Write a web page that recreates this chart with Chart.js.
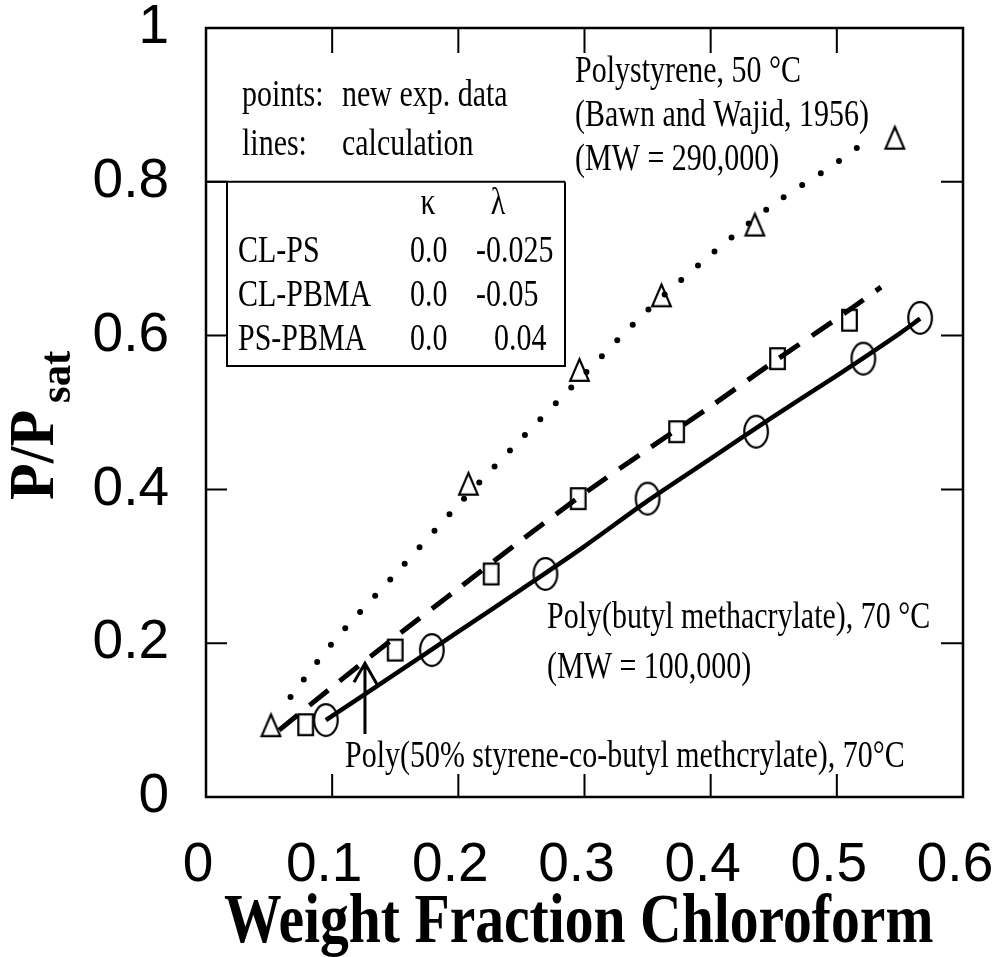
<!DOCTYPE html>
<html>
<head>
<meta charset="utf-8">
<script src="https://cdn.jsdelivr.net/npm/chart.js@4/dist/chart.umd.min.js"></script>
<style>
html,body{margin:0;padding:0;background:#fff;}
#wrap{width:992px;height:957px;position:relative;}
</style>
</head>
<body>
<div id="wrap"><canvas id="c"></canvas></div>
<script>
// ---- tick labels ----
const xTicks = [0, 0.1, 0.2, 0.3, 0.4, 0.5, 0.6];
const xTickLabels = ['0', '0.1', '0.2', '0.3', '0.4', '0.5', '0.6'];
const yTicks = [0, 0.2, 0.4, 0.6, 0.8, 1];
const yTickLabels = ['0', '0.2', '0.4', '0.6', '0.8', '1'];

// ---- experimental points ----
// Polystyrene, 50 °C (triangles)
const psExpX = [0.0515, 0.208, 0.296, 0.361, 0.435, 0.546];
const psExpY = [0.094, 0.408, 0.556, 0.653, 0.745, 0.858];
// Poly(50% styrene-co-butyl methacrylate), 70 °C (squares)
const coExpX = [0.079, 0.150, 0.226, 0.295, 0.373, 0.453, 0.510];
const coExpY = [0.094, 0.191, 0.290, 0.388, 0.475, 0.570, 0.620];
// Poly(butyl methacrylate), 70 °C (circles)
const pbmaExpX = [0.095, 0.179, 0.269, 0.350, 0.436, 0.521, 0.566];
const pbmaExpY = [0.100, 0.191, 0.290, 0.388, 0.475, 0.570, 0.623];

// ---- calculated curves ----
const psCalcX = [0.067, 0.10, 0.15, 0.20, 0.25, 0.30, 0.35, 0.40, 0.45, 0.50, 0.527];
const psCalcY = [0.130, 0.200, 0.290, 0.380, 0.466, 0.550, 0.633, 0.705, 0.771, 0.825, 0.858];
const coCalcX = [0.058, 0.10, 0.15, 0.20, 0.25, 0.30, 0.35, 0.40, 0.45, 0.50, 0.535];
const coCalcY = [0.087, 0.143, 0.208, 0.271, 0.334, 0.395, 0.452, 0.508, 0.566, 0.622, 0.663];
const pbmaCalcX = [0.095, 0.15, 0.20, 0.25, 0.30, 0.35, 0.40, 0.45, 0.50, 0.55, 0.566];
const pbmaCalcY = [0.100, 0.160, 0.215, 0.270, 0.326, 0.385, 0.440, 0.495, 0.548, 0.603, 0.622];

// ---- parameter table ----
const tablePairs = ['CL-PS', 'CL-PBMA', 'PS-PBMA'];
const tableKappa = ['0.0', '0.0', '0.0'];
const tableLambda = ['-0.025', '-0.05', '0.04'];

// arrow pointing at copolymer curve
const arrowX = [0.126];
const arrowY = [0.082, 0.174];

function pts(xs, ys) { return xs.map((x, i) => ({x: x, y: ys[i]})); }

function marker(type, w, h, lw) {
  const c = document.createElement('canvas');
  c.width = w; c.height = h;
  const g = c.getContext('2d');
  g.strokeStyle = '#000'; g.lineWidth = lw; g.lineJoin = 'miter';
  g.beginPath();
  if (type === 'ellipse') {
    g.ellipse(w / 2, h / 2, w / 2 - lw, h / 2 - lw, 0, 0, Math.PI * 2);
  } else if (type === 'rect') {
    g.rect(lw, lw, w - 2 * lw, h - 2 * lw);
  } else {
    g.moveTo(w / 2, lw * 1.5);
    g.lineTo(w - lw, h - lw);
    g.lineTo(lw, h - lw);
    g.closePath();
  }
  g.stroke();
  return c;
}
const triImg = marker('tri', 23, 27, 2.2);
const sqImg = marker('rect', 19, 25, 2.2);
const ellImg = marker('ellipse', 28, 36, 2.2);

const SERIF = '"Liberation Serif", "Times New Roman", serif';
const TICKFONT = '"Liberation Sans Narrow", "Liberation Sans", Arial, sans-serif';

function txt(ctx, s, x, y, o) {
  o = o || {};
  const size = o.size || 37, sx = o.sx || 0.81;
  ctx.save();
  ctx.translate(x, y);
  if (o.rot) ctx.rotate(o.rot);
  ctx.scale(sx, 1);
  ctx.font = (o.bold ? 'bold ' : '') + size + 'px ' + SERIF;
  ctx.textAlign = o.align || 'left';
  ctx.textBaseline = 'alphabetic';
  ctx.fillStyle = '#000';
  ctx.fillText(s, 0, 0);
  ctx.restore();
}

const decor = {
  id: 'decor',
  afterDatasetsDraw(chart) {
    const ctx = chart.ctx;
    const a = chart.chartArea;
    const xs = chart.scales.x, ys = chart.scales.y;
    ctx.save();
    ctx.strokeStyle = '#000';
    ctx.lineCap = 'butt';

    // legend rule at 0.8 and parameter table box
    const tblRight = 565, tblLeft = 227, tblBottom = 366;
    const y08 = ys.getPixelForValue(0.8);
    ctx.lineWidth = 2;
    ctx.beginPath();
    ctx.moveTo(a.left, y08); ctx.lineTo(tblRight, y08);
    ctx.moveTo(tblLeft, y08); ctx.lineTo(tblLeft, tblBottom); ctx.lineTo(tblRight, tblBottom); ctx.lineTo(tblRight, y08);
    ctx.stroke();

    // arrow
    const ax = xs.getPixelForValue(arrowX[0]);
    const ay0 = ys.getPixelForValue(arrowY[0]);
    const ay1 = ys.getPixelForValue(arrowY[1]);
    ctx.lineWidth = 3;
    ctx.beginPath();
    ctx.moveTo(ax, ay0); ctx.lineTo(ax, ay1);
    ctx.moveTo(ax - 11, ay1 + 19); ctx.lineTo(ax, ay1); ctx.lineTo(ax + 12, ay1 + 21);
    ctx.stroke();

    // texts
    txt(ctx, 'points:', 242, 106);
    txt(ctx, 'new exp. data', 342, 106);
    txt(ctx, 'lines:', 242, 155);
    txt(ctx, 'calculation', 342, 155);

    txt(ctx, '\u03BA', 428, 214, {align: 'center'});
    txt(ctx, '\u03BB', 498, 214, {align: 'center'});
    const rowY = [262, 306, 350];
    const lamX = [476, 476, 494];
    for (let i = 0; i < tablePairs.length; i++) {
      txt(ctx, tablePairs[i], 238, rowY[i]);
      txt(ctx, tableKappa[i], 410, rowY[i]);
      txt(ctx, tableLambda[i], lamX[i], rowY[i]);
    }

    txt(ctx, 'Polystyrene, 50 \u00B0C', 575, 82);
    txt(ctx, '(Bawn and Wajid, 1956)', 575, 126);
    txt(ctx, '(MW = 290,000)', 575, 170);

    txt(ctx, 'Poly(butyl methacrylate), 70 \u00B0C', 547, 628);
    txt(ctx, '(MW = 100,000)', 547, 678);

    txt(ctx, 'Poly(50% styrene-co-butyl methcrylate), 70\u00B0C', 345, 767);

    // axis titles
    txt(ctx, 'Weight Fraction Chloroform', 224, 942, {size: 69, bold: true, sx: 0.835});
    txt(ctx, 'P/P', 53, 500, {size: 64, bold: true, sx: 0.94, rot: -Math.PI / 2});
    txt(ctx, 'sat', 70, 403, {size: 45, bold: true, sx: 0.95, rot: -Math.PI / 2});
    ctx.restore();
  },
  afterDraw(chart) {
    const ctx = chart.ctx;
    const a = chart.chartArea;
    const xs = chart.scales.x, ys = chart.scales.y;
    ctx.save();
    ctx.strokeStyle = '#000';
    ctx.lineWidth = 2.5;
    ctx.strokeRect(a.left, a.top, a.right - a.left, a.bottom - a.top);
    ctx.lineWidth = 2;
    ctx.beginPath();
    xTicks.forEach(v => {
      if (v <= 0 || v >= 0.6) return;
      const px = xs.getPixelForValue(v);
      ctx.moveTo(px, a.bottom); ctx.lineTo(px, a.bottom - 23);
      ctx.moveTo(px, a.top); ctx.lineTo(px, a.top + 25);
    });
    yTicks.forEach(v => {
      if (v <= 0 || v >= 1) return;
      const py = ys.getPixelForValue(v);
      ctx.moveTo(a.left, py); ctx.lineTo(a.left + 21, py);
      ctx.moveTo(a.right, py); ctx.lineTo(a.right - 22, py);
    });
    ctx.stroke();
    ctx.restore();
  }
};

function labelFor(ticks, labels, v) {
  for (let i = 0; i < ticks.length; i++) if (Math.abs(ticks[i] - v) < 1e-6) return labels[i];
  return '';
}

new Chart(document.getElementById('c'), {
  type: 'scatter',
  data: {
    datasets: [
      {label: 'PS calc', type: 'line', data: pts(psCalcX, psCalcY), borderColor: '#000', borderWidth: 6,
       borderDash: [0, 22], borderCapStyle: 'round', pointRadius: 0, fill: false, tension: 0.3},
      {label: 'Copolymer calc', type: 'line', data: pts(coCalcX, coCalcY), borderColor: '#000', borderWidth: 5,
       borderDash: [24, 15], borderCapStyle: 'butt', pointRadius: 0, fill: false, tension: 0.3},
      {label: 'PBMA calc', type: 'line', data: pts(pbmaCalcX, pbmaCalcY), borderColor: '#000', borderWidth: 4.5,
       pointRadius: 0, fill: false, tension: 0.3},
      {label: 'Polystyrene, 50 °C', data: pts(psExpX, psExpY), showLine: false, pointStyle: triImg, pointRadius: 10},
      {label: 'Copolymer, 70 °C', data: pts(coExpX, coExpY), showLine: false, pointStyle: sqImg, pointRadius: 10},
      {label: 'PBMA, 70 °C', data: pts(pbmaExpX, pbmaExpY), showLine: false, pointStyle: ellImg, pointRadius: 10}
    ]
  },
  options: {
    responsive: true,
    maintainAspectRatio: false,
    animation: false,
    events: [],
    layout: {padding: {left: 0, right: 29, top: 28, bottom: 0}},
    plugins: {legend: {display: false}, tooltip: {enabled: false}},
    scales: {
      x: {
        type: 'linear', min: 0, max: 0.6,
        grid: {display: false}, border: {display: false},
        afterBuildTicks: s => { s.ticks = xTicks.map(v => ({value: v})); },
        afterFit: s => { s.height = 160; s.paddingLeft = 0; s.paddingRight = 0; },
        ticks: {color: '#000', padding: 28, maxRotation: 0, autoSkip: false, labelOffset: -8,
                font: {family: TICKFONT, size: 55},
                callback: v => labelFor(xTicks, xTickLabels, v)}
      },
      y: {
        type: 'linear', min: 0, max: 1,
        grid: {display: false}, border: {display: false},
        afterBuildTicks: s => { s.ticks = yTicks.map(v => ({value: v})); },
        afterFit: s => { s.width = 206; s.paddingTop = 0; s.paddingBottom = 0; },
        ticks: {color: '#000', padding: 29, autoSkip: false,
                font: {family: TICKFONT, size: 55},
                callback: v => labelFor(yTicks, yTickLabels, v)}
      }
    }
  },
  plugins: [decor]
});
</script>
</body>
</html>
